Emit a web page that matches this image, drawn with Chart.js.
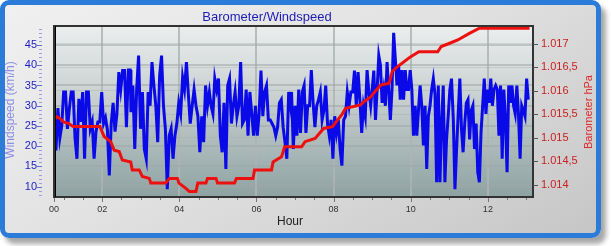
<!DOCTYPE html>
<html><head><meta charset="utf-8">
<script src="https://cdn.jsdelivr.net/npm/chart.js@4/dist/chart.umd.min.js"></script>
<style>
html,body{margin:0;padding:0;width:611px;height:246px;overflow:hidden;background:#fff;}
#frame{position:absolute;left:0;top:0;width:591px;height:228px;border:5px solid #2b7bd8;border-radius:9px;background:linear-gradient(150deg,#f0f0f0 0%,#e2e2e2 45%,#c6c6c6 100%);box-shadow:5px 6px 5px rgba(0,0,0,0.35);}
#c{position:absolute;left:0;top:0;}
</style></head>
<body>
<div id="frame"></div>
<canvas id="c" width="611" height="246"></canvas>
<script>
const hourTicks=[0.75,2,4,6,8,10,12];
const hourLabels=['00','02','04','06','08','10','12'];
const windTicks=[10,15,20,25,30,35,40,45];
const baroTicks=[1014,1014.5,1015,1015.5,1016,1016.5,1017];
// windspeed readings, in consecutive time blocks (start/end hour of each block)
const windBlockStart=[0.753,2.745,4.823,6.909,9.0,11.104];
const windBlockEnd=[2.727,4.779,6.883,8.961,11.057,13.047];
const wind1=[19.3,19.3,29.4,22,25,33.4,33.4,24.3,29.2,33.4,33.4,22,16.9,31.7,26,33.4,16.9,33.4,33.4,24.3,26,16.9,23.6,26,26,33.4,25.6,27,24,12.8,25.6,30.7,23.6,28,38.3,34,38.7,38.7,24.7,38.8,38.8];
const wind2=[28.4,35,19.3,34.2,42.4,24.3,33.4,19.3,16.9,33.4,30,40.8,35,30,21,37.5,42.4,30,24.3,9.4,22.6,24.3,16.9,22.6,25.6,30.7,28,37,34,40.8,32.9,25.6,30,34,30,27.4,18.5,27.4,21,35,30,33.4];
const wind3=[30,28,36.7,34,36.7,22.6,18.5,30.7,14.4,35,36.7,25.6,30,33.4,27.4,30,40.8,25.6,26.5,34,22.6,33.4,28,22.6,30,22.6,28,38.7,27.4,33.4,35,26.5,26.5,25.6,24.7,22.6,24.7,30.7,31.5,24.7,21,16.9,33.4,30];
const wind4=[33.4,19.3,30,22.6,34,23.3,33.4,35,23.3,30,30,38.8,30.7,24.7,30,31.5,33.4,26.5,28.8,35,25.6,22.6,26.5,16.9,27.4,23.3,26.5,19.3,15.2,26.5,27.4,33.4,30,33.4,33.4,38.7,30,38.3,31.5,23.3,30,27.4,38.8,33.4,30];
const wind5=[34,38.7,26.5,34,42.4,40,30.7,34,30,40.8,34,26.5,34,48,41.6,35,40,31.5,38.8,31.5,38.8,34,34,38.8,34,22.6,30,22.6,28.8,35,30,20.2,30,14.4,27.4,30,34,36.7,32.9,11.1,35,11.1,25.6,35,11.1,21.7,27.4,34,36.7];
const wind6=[26.5,9.4,19.3,28,36.7,24.3,18.5,25.6,30.7,31.5,21.7,28.8,30,19.3,25.6,13.6,11.1,23.3,30,36.7,28,34,30.7,36.7,30,34,35,34,22.6,35,16.9,34,26.5,13.6,35,30.7,35,30,28,35,28,16.9,30,28.8,27.4,36.7,31.5];
const baroTimes=[0.75,0.82,0.93,0.99,1.12,1.25,1.94,2.05,2.22,2.31,2.44,2.52,2.74,2.78,2.96,3.04,3.22,3.26,3.65,3.74,3.95,3.99,4.17,4.26,4.43,4.48,4.69,4.73,4.95,4.99,5.43,5.48,5.91,5.95,6.39,6.43,6.65,6.73,7.17,7.26,7.52,7.74,7.97,8.12,8.22,8.31,8.70,8.79,8.96,9.09,9.22,9.44,9.52,9.65,9.80,9.99,10.21,10.70,10.79,11.01,11.22,11.52,11.78,13.08];
const baroValues=[1015.38,1015.45,1015.40,1015.34,1015.31,1015.24,1015.24,1015.03,1014.92,1014.74,1014.71,1014.53,1014.49,1014.32,1014.32,1014.18,1014.14,1014.04,1014.04,1014.14,1014.14,1014.04,1013.93,1013.86,1013.86,1014.04,1014.04,1014.14,1014.14,1014.04,1014.04,1014.14,1014.14,1014.32,1014.32,1014.49,1014.60,1014.81,1014.81,1014.92,1014.99,1015.20,1015.24,1015.40,1015.50,1015.63,1015.70,1015.77,1015.87,1016.00,1016.12,1016.16,1016.41,1016.51,1016.60,1016.72,1016.83,1016.83,1016.94,1017.01,1017.08,1017.22,1017.33,1017.33];

const X_MIN=0.75, X_MAX=13.17, W_MIN=7.45, W_MAX=49.7, B_MIN=1013.745, B_MAX=1017.376;
const FONT='"Liberation Sans", Arial, sans-serif';

function fmtBaro(v){
  const ip=Math.floor(v+1e-9); const frac=Math.round((v-ip)*10);
  let s=String(ip); s=s.slice(0,s.length-3)+'.'+s.slice(-3);
  return frac? s+','+frac : s;
}
const windData=[];
[wind1,wind2,wind3,wind4,wind5,wind6].forEach((blk,b)=>{
  const t0=windBlockStart[b], t1=windBlockEnd[b], st=(t1-t0)/(blk.length-1);
  blk.forEach((v,i)=>windData.push({x:t0+i*st,y:v}));
});
const baroData=baroTimes.map((t,i)=>({x:t,y:baroValues[i]}));

const decor={
  id:'decor',
  beforeDraw(chart){
    const {ctx,chartArea:a}=chart;
    const g=ctx.createLinearGradient(0,a.top,0,a.bottom);
    g.addColorStop(0,'#eceeee');g.addColorStop(0.45,'#c5cdcd');g.addColorStop(1,'#8ea2a2');
    ctx.save();ctx.fillStyle=g;ctx.fillRect(a.left,a.top,a.right-a.left,a.bottom-a.top);ctx.restore();
  },
  afterDraw(chart){
    const {ctx,chartArea:a,scales}=chart;
    ctx.save();
    ctx.strokeStyle='#333';ctx.lineWidth=2;
    ctx.strokeRect(a.left,a.top,a.right-a.left,a.bottom-a.top);
    ctx.strokeStyle='#000';ctx.lineWidth=1;
    ctx.beginPath();ctx.moveTo(a.left+1.5,a.top);ctx.lineTo(a.left+1.5,a.bottom);ctx.stroke();
    const y=scales.y;
    for(let v=Math.ceil(W_MIN);v<=W_MAX;v++){
      const py=Math.round(y.getPixelForValue(v))+0.5;
      const major=windTicks.includes(v);
      ctx.strokeStyle=major?'#6c6cd0':'#9c9ce8';
      ctx.beginPath();ctx.moveTo(major?37:39,py);ctx.lineTo(42,py);ctx.stroke();
    }
    const y1=scales.y1;
    ctx.strokeStyle='#555';
    baroTicks.forEach(v=>{const py=Math.round(y1.getPixelForValue(v))+0.5;ctx.beginPath();ctx.moveTo(a.right,py);ctx.lineTo(a.right+5,py);ctx.stroke();});
    const x=scales.x;
    ctx.strokeStyle='#777';
    for(let h=1;h<=13;h+=0.5){
      const px=Math.round(x.getPixelForValue(h))+0.5;
      const major=hourTicks.includes(h);
      ctx.beginPath();ctx.moveTo(px,a.bottom+1);ctx.lineTo(px,a.bottom+(major?5:3));ctx.stroke();
    }
    {const px=Math.round(x.getPixelForValue(X_MIN))+0.5;ctx.beginPath();ctx.moveTo(px,a.bottom+1);ctx.lineTo(px,a.bottom+5);ctx.stroke();}
    ctx.textAlign='center';ctx.textBaseline='middle';
    ctx.fillStyle='#1c1cb4';ctx.font='13px '+FONT;
    ctx.fillText('Barometer/Windspeed',267,17);
    ctx.fillStyle='#222';ctx.font='12px '+FONT;
    ctx.fillText('Hour',290,222);
    ctx.save();ctx.translate(11,110);ctx.rotate(-Math.PI/2);
    ctx.fillStyle='#8e8ee6';ctx.font='12px '+FONT;ctx.fillText('Windspeed (km/h)',0,0);ctx.restore();
    ctx.save();ctx.translate(589,112);ctx.rotate(-Math.PI/2);
    ctx.fillStyle='#dd2a2a';ctx.font='11px '+FONT;ctx.fillText('Barometer hPa',0,0);ctx.restore();
    ctx.restore();
  }
};

new Chart(document.getElementById('c'),{
  type:'line',
  data:{datasets:[
    {label:'Barometer',data:baroData,yAxisID:'y1',borderColor:'#ee0f0f',borderWidth:3,pointRadius:0,tension:0,fill:false},
    {label:'Windspeed',data:windData,yAxisID:'y',borderColor:'#0a0ae8',borderWidth:3,pointRadius:0,tension:0,fill:false}
  ]},
  options:{
    responsive:false,animation:false,devicePixelRatio:1,
    layout:{padding:{top:26,left:0,right:0,bottom:0}},
    plugins:{legend:{display:false},tooltip:{enabled:false},title:{display:false}},
    scales:{
      x:{type:'linear',min:X_MIN,max:X_MAX,
        afterBuildTicks:s=>{s.ticks=hourTicks.map(v=>({value:v}));},
        afterFit:s=>{s.height=49;},
        ticks:{callback:(v,i)=>hourLabels[i],color:'#333',font:{size:9,family:FONT},padding:7,maxRotation:0,autoSkip:false},
        grid:{color:c=>(c.tick&&c.tick.value===X_MIN)?'rgba(0,0,0,0)':'rgba(175,180,180,0.85)',lineWidth:2,drawTicks:false},
        border:{display:false}},
      y:{position:'left',min:W_MIN,max:W_MAX,
        afterBuildTicks:s=>{s.ticks=windTicks.map(v=>({value:v}));},
        afterFit:s=>{s.width=54;},
        ticks:{color:'#1c1cc8',font:{size:11,family:FONT},padding:17},
        grid:{color:'rgba(160,168,168,0.55)',lineWidth:2,drawTicks:false},
        border:{display:false}},
      y1:{position:'right',min:B_MIN,max:B_MAX,
        afterBuildTicks:s=>{s.ticks=baroTicks.map(v=>({value:v}));},
        afterFit:s=>{s.width=78;},
        ticks:{color:'#cc2020',font:{size:11,family:FONT},padding:8,callback:v=>fmtBaro(v)},
        grid:{drawOnChartArea:true,color:'rgba(160,168,168,0.35)',lineWidth:1,drawTicks:false},
        border:{display:false}}
    }
  },
  plugins:[decor]
});
</script>
</body></html>
